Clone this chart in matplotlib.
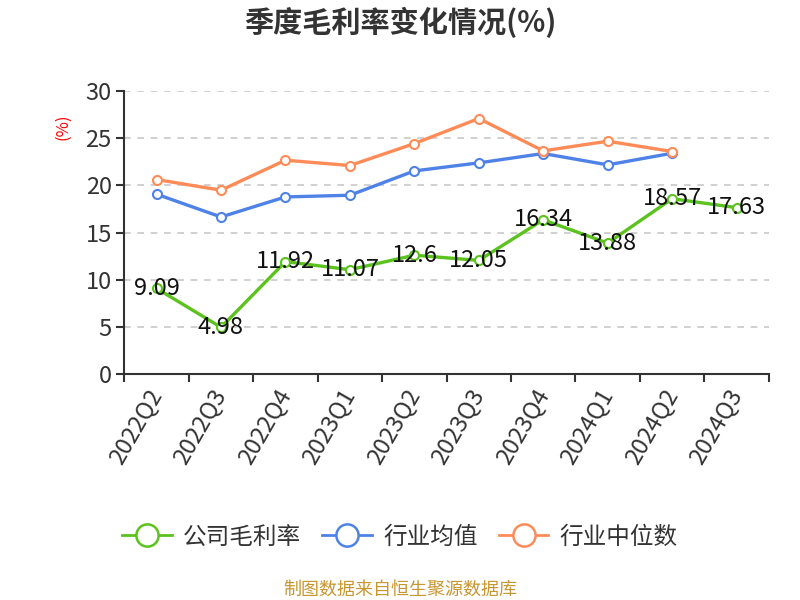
import matplotlib
matplotlib.use("Agg")
import matplotlib.pyplot as plt
from matplotlib.lines import Line2D
import numpy as np

plt.rcParams['font.family'] = ['Noto Sans CJK SC', 'DejaVu Sans']

quarters = ["2022Q2", "2022Q3", "2022Q4", "2023Q1", "2023Q2", "2023Q3",
            "2023Q4", "2024Q1", "2024Q2", "2024Q3"]
company = [9.09, 4.98, 11.92, 11.07, 12.6, 12.05, 16.34, 13.88, 18.57, 17.63]
industry_avg = [19.05, 16.64, 18.76, 18.94, 21.51, 22.36, 23.35, 22.15, 23.38, np.nan]
industry_median = [20.6, 19.47, 22.64, 22.08, 24.4, 27.05, 23.63, 24.65, 23.56, np.nan]
series_names = ["公司毛利率", "行业均值", "行业中位数"]
yticks = [0, 5, 10, 15, 20, 25, 30]

c_green = '#5bc21e'
c_blue = '#4f82e6'
c_orange = '#ff8c58'

fig = plt.figure(figsize=(8, 6), dpi=100)
ax = fig.add_axes([0.1554, 0.376, 0.961 - 0.1554, 0.849 - 0.376])

x = np.arange(len(quarters))
for vals, col, name in [(company, c_green, series_names[0]),
                        (industry_avg, c_blue, series_names[1]),
                        (industry_median, c_orange, series_names[2])]:
    ax.plot(x, vals, color=col, lw=2.4, marker='o', ms=6.5, mfc='white',
            mec=col, mew=1.5, label=name, zorder=3)

for xi, v in zip(x, company):
    ax.text(xi, v, f"{v:g}", ha='center', va='center', fontsize=17,
            color='#111111', zorder=5)

ax.set_xlim(-0.5, len(quarters) - 0.5)
ax.set_ylim(0, 30)
ax.set_yticks(yticks)
ax.set_yticklabels([str(t) for t in yticks], fontsize=17, color='#333333')
ax.yaxis.grid(True, linestyle=(0, (4, 4)), color='#c8c8c8', lw=1.2)
ax.set_axisbelow(True)

ax.set_xticks(x)
ax.set_xticklabels(quarters, rotation=60, ha='right', va='center',
                   rotation_mode='anchor', fontsize=17, color='#333333')
ax.set_xticks(np.arange(-0.5, len(quarters), 1), minor=True)
ax.tick_params(axis='x', which='major', length=0, pad=12)
ax.tick_params(axis='x', which='minor', length=6, width=1.5, color='#333333')
ax.tick_params(axis='y', length=6, width=1.5, color='#333333', pad=3)

for s in ['top', 'right']:
    ax.spines[s].set_visible(False)
for s in ['left', 'bottom']:
    ax.spines[s].set_color('#333333')
    ax.spines[s].set_linewidth(1.5)

fig.text(0.079, 0.788, "(%)", rotation=90, color='red', fontsize=12,
         ha='center', va='center')

fig.text(0.5, 0.962, "季度毛利率变化情况(%)", ha='center', va='center',
         fontsize=21, fontweight='bold', color='#333333')

handles, labels = ax.get_legend_handles_labels()
leg_handles = [Line2D([0], [0], color=h.get_color(), lw=2, marker='o', ms=16,
                      mfc='white', mec=h.get_color(), mew=1.8) for h in handles]
fig.legend(leg_handles, labels, loc='center', bbox_to_anchor=(0.5, 0.105),
           ncol=3, frameon=False, fontsize=17, handlelength=2.1,
           columnspacing=0.9, handletextpad=0.47, labelcolor='#333333')

fig.text(0.5, 0.018, "制图数据来自恒生聚源数据库", ha='center', va='center',
         fontsize=13, color='#c8962e')

fig.savefig("out.png", dpi=100)
